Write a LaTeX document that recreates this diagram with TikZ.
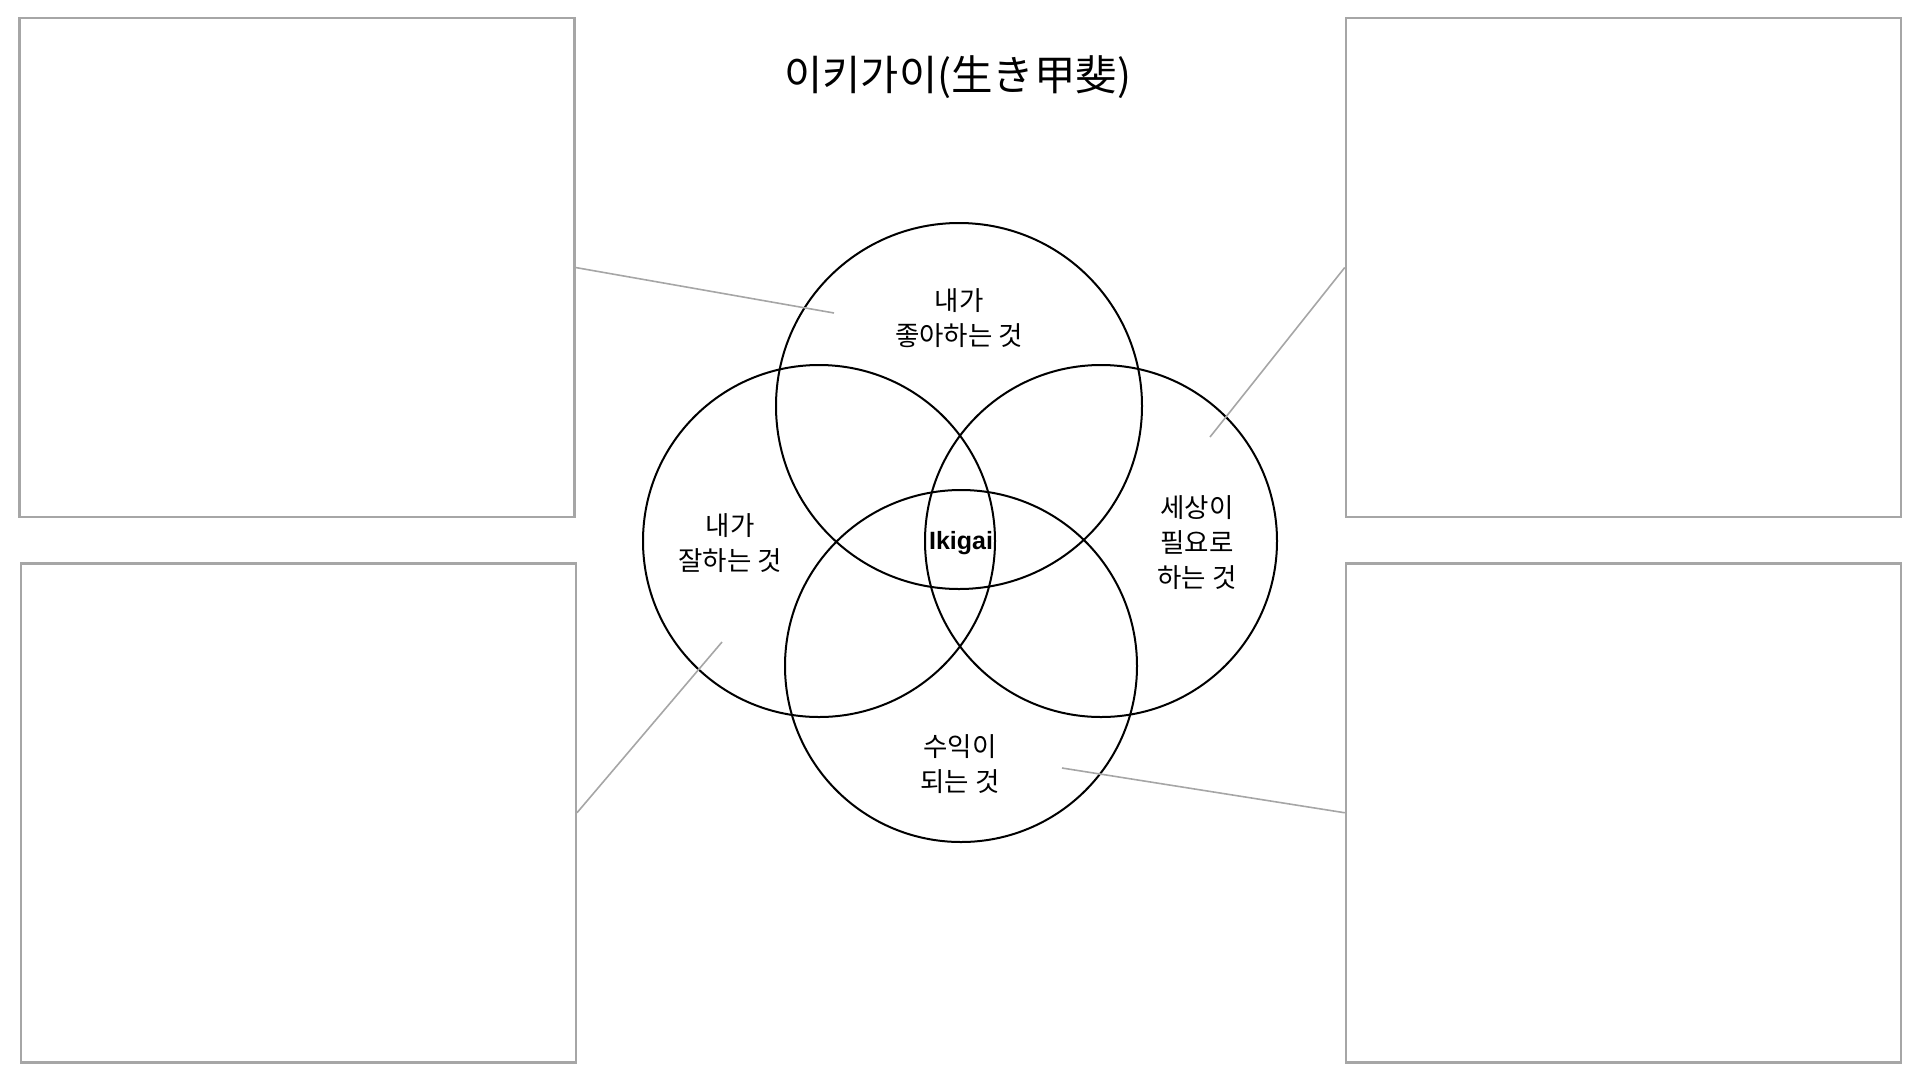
\documentclass[tikz,border=0pt]{standalone}
\usepackage{fontspec}
\setmainfont{Noto Sans CJK KR}
\newfontfamily\ikigaifont{Liberation Sans}
\usepackage{tikz}
\usepackage{xcolor}
\definecolor{panelgray}{HTML}{A6A6A6}
\tikzset{
  panel/.style={draw=panelgray, line width=2.5pt, minimum width=555pt, minimum height=499pt, inner sep=0pt},
  ring/.style={draw, circle, line width=2pt, inner sep=0pt},
  tag/.style={align=center, font=\fontsize{26.5}{35}\selectfont},
  leader/.style={draw=panelgray, line width=1.6pt}
}
\newcommand{\Ikigai}[1]{{\ikigaifont\bfseries #1}}

\begin{document}
\begin{tikzpicture}[x=1pt, y=-1pt]
    \useasboundingbox (0,0) rectangle (1920,1080);
    \node[font=\fontsize{41.5}{48}\selectfont] (title) at (958,77) {이키가이(生き甲斐)};
    \node[panel] (boxTL) at (296.75,267.5) {};
    \node[panel] (boxBL) at (298.25,812.75) {};
    \node[panel] (boxTR) at (1623.5,267.5) {};
    \node[panel] (boxBR) at (1623.5,812.75) {};
    \node[ring, minimum size=366pt] (love) at (959,406) {};
    \node[ring, minimum size=352pt] (good) at (819,541) {};
    \node[ring, minimum size=352pt] (need) at (1101,541) {};
    \node[ring, minimum size=352pt] (paid) at (961,666) {};
    \node[tag] (loveText) at (959,318) {내가\\좋아하는 것};
    \node[tag] (goodText) at (730,543) {내가\\잘하는 것};
    \node[tag] (needText) at (1197,543) {세상이\\필요로\\하는 것};
    \node[tag] (paidText) at (960,764) {수익이\\되는 것};
    \node[font=\fontsize{25}{30}\selectfont] (core) at (961,543) {\Ikigai{Ikigai}};
    \coordinate (loveEnd) at (834,313);
    \coordinate (needEnd) at (1210,437);
    \coordinate (goodEnd) at (722,642);
    \coordinate (paidEnd) at (1062,768);
    \draw[leader] (boxTL.east) -- (loveEnd);
    \draw[leader] (boxTR.west) -- (needEnd);
    \draw[leader] (boxBL.east) -- (goodEnd);
    \draw[leader] (boxBR.west) -- (paidEnd);
\end{tikzpicture}
\end{document}
